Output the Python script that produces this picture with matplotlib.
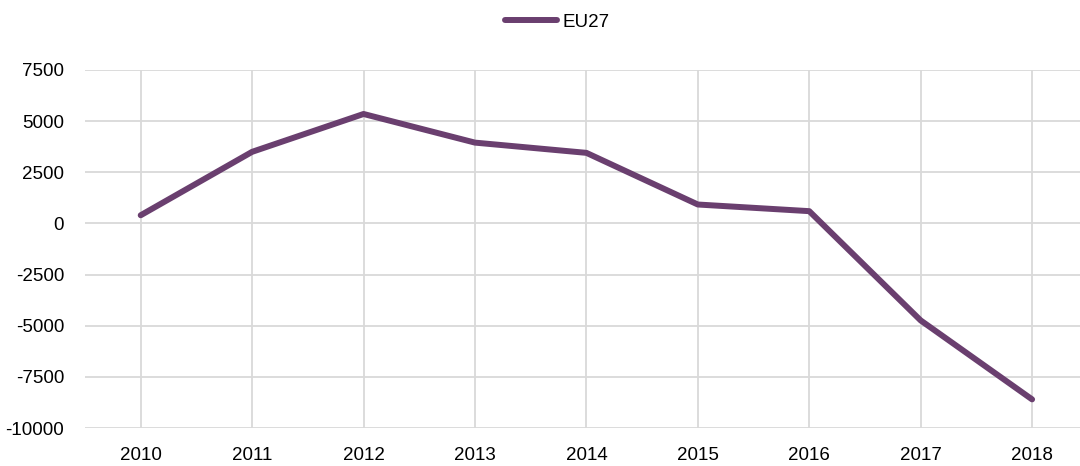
import matplotlib.pyplot as plt
from matplotlib.ticker import FixedLocator

plt.rcParams['font.family'] = ['Liberation Sans', 'DejaVu Sans']

years = ['2010', '2011', '2012', '2013', '2014', '2015', '2016', '2017', '2018']
eu27 = [400, 3500, 5350, 3950, 3450, 925, 600, -4740, -8600]
y_ticks = [7500, 5000, 2500, 0, -2500, -5000, -7500, -10000]

line_color = '#6a3f6f'
grid_color = '#d9d9d9'

fig = plt.figure(figsize=(10.8, 4.66), dpi=100)
ax = fig.add_axes([0.0787, 0.0815, 0.9213, 0.7683])

x = list(range(len(years)))
ax.plot(x, eu27, color=line_color, linewidth=4.3, solid_capstyle='round',
        solid_joinstyle='round', label='EU27', zorder=3)

ax.set_xlim(-0.5, 8.43)
ax.set_ylim(-10000, 7500)
ax.set_xticks(x)
ax.set_xticklabels(years)
ax.yaxis.set_major_locator(FixedLocator(y_ticks))
ax.set_yticklabels([str(v) for v in y_ticks])

ax.grid(True, color=grid_color, linewidth=1.3)
ax.set_axisbelow(True)
for side in ax.spines.values():
    side.set_visible(False)
ax.tick_params(axis='both', length=0, labelsize=13.5, colors='#000000')
ax.tick_params(axis='x', pad=14)
ax.tick_params(axis='y', pad=15)

leg = fig.legend(loc='center', bbox_to_anchor=(0.516, 0.952), frameon=False,
                 fontsize=13.5, handlelength=2.8, handletextpad=0.3)

fig.savefig('out.png', dpi=100)
plt.close(fig)
